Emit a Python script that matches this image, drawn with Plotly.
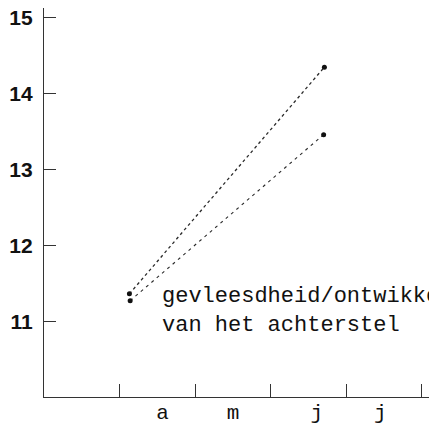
import plotly.graph_objects as go

# month axis: 0 = begin maart, 1 = begin april, ...
month_ticks = [1, 2, 3, 4, 5]
month_label_pos = [1.57, 2.5, 3.61, 4.45]
month_labels = ["a", "m", "j", "j"]

y_ticks = [11, 12, 13, 14, 15]

# two series (start / end)
upper_x = [1.13, 3.71]
upper_y = [11.36, 14.35]
lower_x = [1.14, 3.70]
lower_y = [11.27, 13.46]

label_text = "gevleesdheid/ontwikkeling<br>van het achterstel"

fig = go.Figure()
fig.add_trace(go.Scatter(x=upper_x, y=upper_y, mode="lines+markers",
                         line=dict(color="#2a2a2a", width=1.3, dash="dot"),
                         marker=dict(color="#111", size=5), showlegend=False))
fig.add_trace(go.Scatter(x=lower_x, y=lower_y, mode="lines+markers",
                         line=dict(color="#2a2a2a", width=1.1, dash="3px,4px"),
                         marker=dict(color="#111", size=5), showlegend=False))
# invisible trace to carry the label axis
fig.add_trace(go.Scatter(x=month_label_pos, y=[10.5] * len(month_label_pos), xaxis="x2",
                         mode="markers", marker=dict(opacity=0), hoverinfo="skip",
                         showlegend=False))

fig.add_annotation(x=1.54, y=11.13, xref="x", yref="y", text=label_text,
                   showarrow=False, xanchor="left", yanchor="middle", align="left",
                   font=dict(family="Liberation Mono", size=22, color="#111"))

xr = [0, 5.2]
fig.update_layout(
    width=429, height=416,
    margin=dict(l=36, r=0, t=0, b=27),
    paper_bgcolor="white", plot_bgcolor="white",
    xaxis=dict(range=xr, tickvals=month_ticks, showticklabels=False,
               ticks="inside", ticklen=13, tickwidth=1.2, tickcolor="#333",
               showline=True, linecolor="#333", linewidth=1.2,
               showgrid=False, zeroline=False, automargin=False),
    xaxis2=dict(range=xr, overlaying="x", side="bottom", anchor="y",
                tickvals=month_label_pos, ticktext=month_labels,
                ticks="", showline=False, showgrid=False, zeroline=False,
                automargin=False, ticklabelstandoff=0,
                tickfont=dict(family="Liberation Mono", size=21, color="#111")),
    yaxis=dict(range=[10, 15.13], tickvals=y_ticks,
               ticks="inside", ticklen=12, tickwidth=1.2, tickcolor="#333",
               showline=True, linecolor="#333", linewidth=1.2,
               showgrid=False, zeroline=False, ticklabelstandoff=6,
               automargin=False, ticklabeloverflow="allow",
               tickfont=dict(family="Liberation Sans", size=21, color="#111",
                             weight="bold")),
)

fig.write_html("out.html")
